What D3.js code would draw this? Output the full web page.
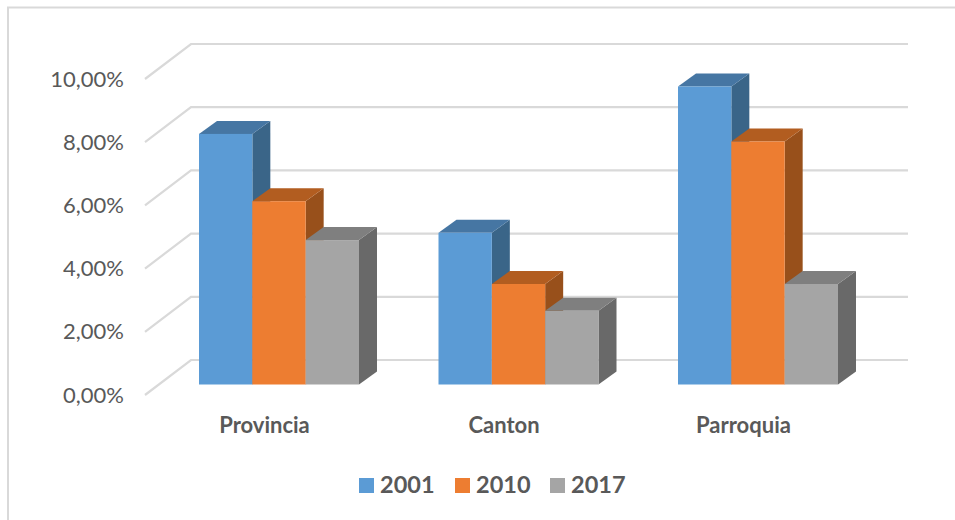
<!DOCTYPE html>
<html><head><meta charset="utf-8">
<script src="https://cdn.jsdelivr.net/npm/d3@7"></script>
<style>html,body{margin:0;padding:0;background:#fff}svg{display:block}text{font-family:Lato,sans-serif}</style>
</head><body><div id="c"></div>
<script>
const categories = ["Provincia","Canton","Parroquia"];
const seriesNames = ["2001","2010","2017"];
const values2001 = [7.93,4.80,9.43];
const values2010 = [5.80,3.18,7.69];
const values2017 = [4.57,2.33,3.18];
const tickValues = [0,2,4,6,8,10];
const seriesValues = [values2001,values2010,values2017];
const frontColors = ["#5B9BD5","#ED7D31","#A5A5A5"];
const topColors = ["#4676A3","#B25D20","#7F7F7F"];
const sideColors = ["#3A6588","#98501B","#696969"];

const W=955,H=520;
const svg=d3.select("#c").append("svg").attr("width",W).attr("height",H);
svg.append("path").attr("d",`M8,${H}V7.5H${W}`).attr("fill","none").attr("stroke","#D9D9D9").attr("stroke-width",2);

const x=d3.scaleBand().domain(categories).range([190.5,909]);
const y=d3.scaleLinear().domain([0,10]).range([360,44]);
const wall={dx:-46,dy:35};
const barFrontDrop=24.5, depth={dx:18,dy:-13};
const inner=d3.scaleBand().domain(seriesNames).range([8.5,168.5]);

const grid=svg.append("g");
grid.selectAll("path").data(tickValues).join("path")
 .attr("d",d=>`M${191+wall.dx},${y(d)+wall.dy}L191,${y(d)}H908`)
 .attr("fill","none").attr("stroke","#D9D9D9").attr("stroke-width",2.2);

const axis=d3.axisLeft(d3.scaleLinear().domain([0,10]).range([360+wall.dy,44+wall.dy]))
 .tickValues(tickValues).tickSize(0).tickPadding(0)
 .tickFormat(d=>d3.format(".2f")(d).replace(".",",")+"%");
const ax=svg.append("g").attr("transform","translate(124,0)").call(axis);
ax.select(".domain").remove();
ax.selectAll("text").attr("font-family","Lato,sans-serif").attr("font-size",22).attr("fill","#595959");

const bars=svg.append("g");
categories.forEach((c,ci)=>{
 seriesNames.forEach((s,si)=>{
  const v=seriesValues[si][ci];
  const x0=x(c)+inner(s),w=inner.bandwidth();
  const yb=y(0)+barFrontDrop,yt=y(v)+barFrontDrop;
  const g=bars.append("g");
  g.append("path").attr("fill",sideColors[si])
   .attr("d",`M${x0+w},${yt}l${depth.dx},${depth.dy}V${yb+depth.dy}l${-depth.dx},${-depth.dy}Z`);
  g.append("path").attr("fill",topColors[si])
   .attr("d",`M${x0},${yt}l${depth.dx},${depth.dy}h${w}l${-depth.dx},${-depth.dy}Z`);
  g.append("rect").attr("fill",frontColors[si]).attr("x",x0).attr("y",yt).attr("width",w).attr("height",yb-yt);
 });
});

svg.append("g").selectAll("text").data(categories).join("text")
 .attr("x",d=>x(d)+74).attr("y",433).attr("text-anchor","middle")
 .attr("font-size",22).attr("font-weight",700).attr("fill","#595959").text(d=>d);

const legendX=d3.scaleOrdinal().domain(seriesNames).range([359,455,550]);
const leg=svg.append("g").selectAll("g").data(seriesNames).join("g");
leg.append("rect").attr("x",d=>legendX(d)).attr("y",478).attr("width",15).attr("height",15).attr("fill",(d,i)=>frontColors[i]);
leg.append("text").attr("x",d=>legendX(d)+21).attr("y",493).attr("font-size",23.5).attr("font-weight",700).attr("fill","#595959").text(d=>d);
</script></body></html>
